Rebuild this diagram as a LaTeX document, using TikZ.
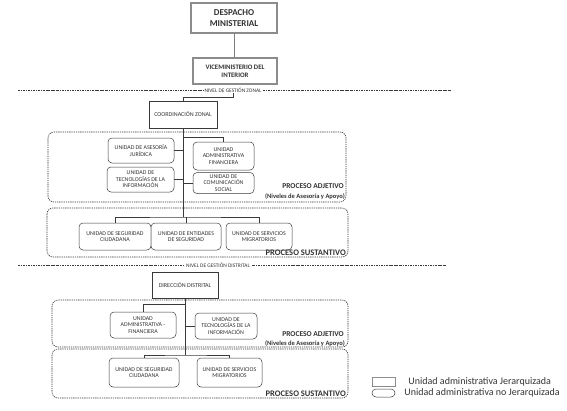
\documentclass[tikz,border=0pt]{standalone}
\usepackage{fontspec}
\setmainfont{Carlito}
\usetikzlibrary{positioning}
\definecolor{trazo}{HTML}{3A3A3A}
\definecolor{grismarco}{HTML}{8C8C8C}
\definecolor{texto}{HTML}{333333}
\tikzset{
  jerarquica/.style={rectangle, draw=grismarco, line width=2pt, fill=white,
    text=texto, font=\fontsize{9}{10.5}\selectfont\bfseries, align=center, inner sep=0pt},
  coordina/.style={rectangle, draw=trazo, line width=0.5pt, fill=white,
    text=texto, font=\fontsize{6}{7}\selectfont, align=center, inner sep=0pt},
  unidad/.style={rectangle, rounded corners=4pt, draw=trazo, line width=0.5pt, fill=white,
    text=texto, font=\fontsize{5.9}{6.6}\selectfont, align=center, inner sep=0pt},
  proceso/.style={draw=trazo, rounded corners=6pt, line width=0.6pt, dash pattern=on 1.3pt off 0.9pt},
  nivel/.style={draw=trazo, line width=0.7pt, dash pattern=on 2.2pt off 1pt on 0.7pt off 1pt},
  rotulonivel/.style={fill=white, inner sep=1pt, font=\fontsize{5.4}{6}\selectfont, text=texto},
  rotuloproceso/.style={anchor=east, inner sep=0pt, font=\fontsize{7.5}{8.5}\selectfont\bfseries, text=texto},
  enlace/.style={draw=trazo, line width=0.5pt},
  leyenda/.style={anchor=west, inner sep=0pt, font=\fontsize{10}{12}\selectfont, text=texto}
}
\begin{document}
\begin{tikzpicture}[x=1pt, y=-1pt]
  \useasboundingbox (0,0) rectangle (567,410);
  % nivel central
  \node[jerarquica, minimum width=86pt, minimum height=30pt] (despacho) at (234,18) {DESPACHO\\MINISTERIAL};
  \node[jerarquica, minimum width=84pt, minimum height=26pt, font=\fontsize{6.8}{8.2}\selectfont\bfseries] (vice) at (235,71) {VICEMINISTERIO DEL\\INTERIOR};
  \draw[enlace] (despacho) -- (vice);

  % nivel de gestion zonal
  \draw[nivel] (18,90) -- (452,90);
  \node[rotulonivel] (nivelz) at (233,90) {NIVEL DE GESTIÓN ZONAL};
  \node[coordina, minimum width=68pt, minimum height=27pt] (coordz) at (183,114.5) {COORDINACIÓN ZONAL};
  \draw[enlace] (nivelz.south) -- ++(0,4) -| (coordz.north);

  \draw[proceso] (48,132) rectangle (346,202);
  \draw[proceso] (47,208) rectangle (348,257);
  \node[unidad, minimum width=66pt, minimum height=25pt] (aj) at (141,150.5) {UNIDAD DE ASESORÍA\\JURÍDICA};
  \node[unidad, minimum width=67pt, minimum height=25pt] (ti) at (140.5,179.5) {UNIDAD DE\\TECNOLOGÍAS DE LA\\INFORMACIÓN};
  \node[unidad, minimum width=61pt, minimum height=28pt] (af) at (223.5,156) {UNIDAD\\ADMINISTRATIVA\\FINANCIERA};
  \node[unidad, minimum width=61pt, minimum height=21pt] (cs) at (223.5,183) {UNIDAD DE\\COMUNICACIÓN\\SOCIAL};
  \node[rotuloproceso] (adjz) at (344,186) {PROCESO ADJETIVO};
  \node[rotuloproceso, font=\fontsize{6.5}{7.5}\selectfont\bfseries] (nivadjz) at (345,196.5) {(Niveles de Asesoría y Apoyo)};

  \node[unidad, minimum width=72pt, minimum height=27pt] (su1) at (115,236.5) {UNIDAD DE SEGURIDAD\\CIUDADANA};
  \node[unidad, minimum width=70pt, minimum height=27pt] (su2) at (186,236.5) {UNIDAD DE ENTIDADES\\DE SEGURIDAD};
  \node[unidad, minimum width=66pt, minimum height=27pt] (su3) at (259,236.5) {UNIDAD DE SERVICIOS\\MIGRATORIOS};
  \node[rotuloproceso, font=\fontsize{8.5}{9.5}\selectfont\bfseries] (susz) at (346,253) {PROCESO SUSTANTIVO};

  \coordinate (ramaaf) at (183,137);
  \coordinate (barraz) at (183,217);
  \draw[enlace] (coordz.south) -- (barraz);
  \draw[enlace] (aj.east) -- (aj.east -| barraz);
  \draw[enlace] (ti.east) -- (ti.east -| barraz);
  \draw[enlace] (ramaaf) -| (af.north);
  \draw[enlace] (cs.west) -- (cs.west -| barraz);
  \draw[enlace] (su1.north) |- (barraz) -| (su3.north);
  \draw[enlace] (barraz -| su2.north) -- (su2.north);

  % nivel de gestion distrital
  \draw[nivel] (18,265) -- (446,265);
  \node[rotulonivel] (niveld) at (218,265) {NIVEL DE GESTIÓN DISTRITAL};
  \node[coordina, minimum width=66pt, minimum height=26pt] (dird) at (185,285) {DIRECCIÓN DISTRITAL};

  \draw[proceso] (52,300) rectangle (348,347);
  \draw[proceso] (52,349) rectangle (348,398);
  \node[unidad, minimum width=66pt, minimum height=26pt] (aaf) at (143,325) {UNIDAD\\ADMINISTRATIVA -\\FINANCIERA};
  \node[unidad, minimum width=62pt, minimum height=26pt] (ti2) at (226,326) {UNIDAD DE\\TECNOLOGÍAS DE LA\\INFORMACIÓN};
  \node[rotuloproceso] (adjd) at (344,334) {PROCESO ADJETIVO};
  \node[rotuloproceso, font=\fontsize{6.5}{7.5}\selectfont\bfseries] (nivadjd) at (345,343.5) {(Niveles de Asesoría y Apoyo)};

  \node[unidad, minimum width=70pt, minimum height=29pt] (sd1) at (144,372.5) {UNIDAD DE SEGURIDAD\\CIUDADANA};
  \node[unidad, minimum width=65pt, minimum height=29pt] (sd2) at (229.5,372.5) {UNIDAD DE SERVICIOS\\MIGRATORIOS};
  \node[rotuloproceso, font=\fontsize{8.5}{9.5}\selectfont\bfseries] (susd) at (346,394) {PROCESO SUSTANTIVO};

  \coordinate (ramaaaf) at (185,304);
  \coordinate (barrad) at (185,355);
  \draw[enlace] (dird.south) -- (barrad);
  \draw[enlace] (ramaaaf) -| (aaf.north);
  \draw[enlace] (ti2.west) -- (ti2.west -| barrad);
  \draw[enlace] (sd1.north) |- (barrad) -| (sd2.north);

  % leyenda
  \node[draw=grismarco, line width=0.5pt, minimum width=23pt, minimum height=9pt, inner sep=0pt] (leyj) at (383.5,381.5) {};
  \node[leyenda, right=13pt of leyj] (leyjt) {Unidad administrativa Jerarquizada};
  \node[draw=trazo, line width=0.5pt, rounded corners=4pt, minimum width=23pt, minimum height=8pt, inner sep=0pt] (leynj) at (383.5,393) {};
  \node[leyenda, right=9pt of leynj] (leynjt) {Unidad administrativa no Jerarquizada};
\end{tikzpicture}
\end{document}
